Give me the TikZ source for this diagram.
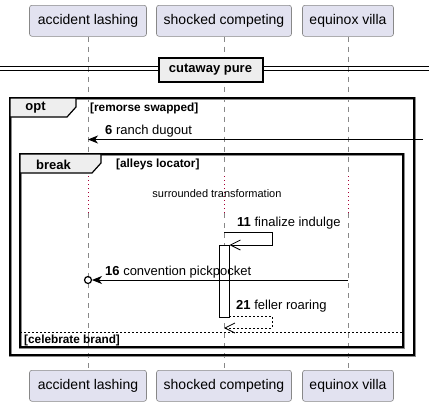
\documentclass[tikz,border=0pt]{standalone}
\usepackage{fontspec}
\setmainfont{Liberation Sans}
\usetikzlibrary{arrows.meta}
\definecolor{partfill}{HTML}{E2E2F0}
\definecolor{partdraw}{HTML}{888888}
\definecolor{tabfill}{HTML}{EEEEEE}
\definecolor{lifegray}{HTML}{888888}
\definecolor{delayred}{HTML}{A80036}
\begin{document}
\begin{tikzpicture}[x=1pt,y=-1pt,
  partbox/.style={draw=partdraw,fill=partfill,rounded corners=2.5pt,line width=0.6pt,minimum height=31pt,inner sep=0pt,anchor=north,font=\fontsize{14}{16}\selectfont},
  lifeline/.style={draw=lifegray,line width=0.6pt,dash pattern=on 5pt off 5pt},
  delayline/.style={draw=delayred,line width=0.8pt,dash pattern=on 1pt off 3pt},
  framebox/.style={line width=1.5pt,draw=black},
  frameshadow/.style={line width=3pt,draw=black!45},
  tabtxt/.style={font=\bfseries\fontsize{13}{15}\selectfont,inner sep=0pt},
  guardtxt/.style={font=\bfseries\fontsize{11.8}{13}\selectfont,inner sep=0pt,anchor=west},
  msgtxt/.style={font=\fontsize{13}{15}\selectfont,inner sep=0pt,anchor=west},
  msg/.style={draw=black,line width=0.9pt},
  filledhead/.style={-{Stealth[length=10pt,width=8pt,inset=3pt]}},
  openhead/.style={-{Straight Barb[length=10pt,width=10pt,line width=0.8pt]}}
]
\useasboundingbox (0,0) rectangle (429,407);
\fill[white] (0,0) rectangle (429,407);

% participants (top)
\node[partbox,minimum width=117pt] (a) at (88,5) {accident lashing};
\node[partbox,minimum width=135pt] (b) at (224,5) {shocked competing};
\node[partbox,minimum width=91pt] (c) at (348,5) {equinox villa};
% participants (bottom)
\node[partbox,minimum width=117pt] (ab) at (88,370) {accident lashing};
\node[partbox,minimum width=135pt] (bb) at (224,370) {shocked competing};
\node[partbox,minimum width=91pt] (cb) at (348,370) {equinox villa};

% lifelines
\foreach \n/\x in {a/88,b/224,c/348}{
  \coordinate (\n d1) at (\x,176);
  \coordinate (\n d2) at (\x,213);
}
\draw[lifeline] (a.south) -- (ad1);
\draw[lifeline] (ad2) -- (ab.north);
\draw[lifeline] (b.south) -- (bd1);
\draw[lifeline] (bd2) -- (bb.north);
\draw[lifeline] (c.south) -- (cd1);
\draw[lifeline] (cd2) -- (cb.north);
\draw[delayline] (ad1) -- (ad2);
\draw[delayline] (bd1) -- (bd2);
\draw[delayline] (cd1) -- (cd2);

% divider
\coordinate (dl1) at (0,66);
\coordinate (dr1) at (429,66);
\coordinate (dl2) at (0,70);
\coordinate (dr2) at (429,70);
\draw[line width=1pt] (dl1) -- (dr1);
\draw[line width=1pt] (dl2) -- (dr2);
\node[draw=black,line width=2pt,fill=tabfill,minimum width=104pt,minimum height=24pt,inner sep=0pt,font=\bfseries\fontsize{13}{15}\selectfont] (div) at (210.5,69.5) {cutaway pure};

% opt frame
\draw[frameshadow] (10,98) rectangle (414,355);
\draw[framebox] (10,98) rectangle (414,355);
\filldraw[fill=tabfill,draw=black,line width=1.2pt] (10,98) -- (76,98) -- (76,107) -- (67,117) -- (10,117) -- cycle;
\node[tabtxt] (optl) at (35.5,108) {opt};
\node[guardtxt] (optg) at (90,108) {[remorse swapped]};

% message 6
\coordinate (m6s) at (423,139.5);
\coordinate (m6e) at (88,139.5);
\draw[msg,filledhead] (m6s) -- (m6e);
\node[msgtxt] (l6) at (105,131) {\textbf{6} ranch dugout};

% break frame
\draw[frameshadow] (20,154) rectangle (403,347);
\draw[framebox] (20,154) rectangle (403,347);
\filldraw[fill=tabfill,draw=black,line width=1.2pt] (20,154) -- (101,154) -- (101,163) -- (92,173) -- (20,173) -- cycle;
\node[tabtxt] (brl) at (53.5,164.5) {break};
\node[guardtxt] (brg) at (116,164.5) {[alleys locator]};

% delay text
\node[font=\fontsize{11}{13}\selectfont,inner sep=0pt] (dly) at (217,194) {surrounded transformation};

% message 11 (self)
\coordinate (m11a) at (224,232);
\coordinate (m11b) at (272,232);
\coordinate (m11c) at (272,245);
\coordinate (m11d) at (229.5,245);
\draw[msg,openhead] (m11a) -- (m11b) -- (m11c) -- (m11d);
\node[msgtxt] (l11) at (237,223) {\textbf{11} finalize indulge};

% activation
\draw[fill=white,draw=black,line width=0.8pt] (219,245) rectangle (229,317);

% message 16
\coordinate (m16s) at (348,280);
\coordinate (m16e) at (92,280);
\draw[msg,filledhead] (m16s) -- (m16e);
\draw[line width=1.2pt] (88,280) circle (3.5pt);
\node[msgtxt] (l16) at (105,272) {\textbf{16} convention pickpocket};

% message 21 (self, dashed)
\coordinate (m21a) at (229,316);
\coordinate (m21b) at (272,316);
\coordinate (m21c) at (272,328);
\coordinate (m21d) at (224,328);
\draw[msg,line width=0.7pt,dash pattern=on 2pt off 2pt,openhead] (m21a) -- (m21b) -- (m21c) -- (m21d);
\node[msgtxt] (l21) at (236,306) {\textbf{21} feller roaring};

% else separator
\coordinate (e1) at (20,332);
\coordinate (e2) at (403,332);
\draw[line width=0.8pt,dash pattern=on 2pt off 2pt] (e1) -- (e2);
\node[guardtxt] (elg) at (24,340.5) {[celebrate brand]};
\end{tikzpicture}
\end{document}
